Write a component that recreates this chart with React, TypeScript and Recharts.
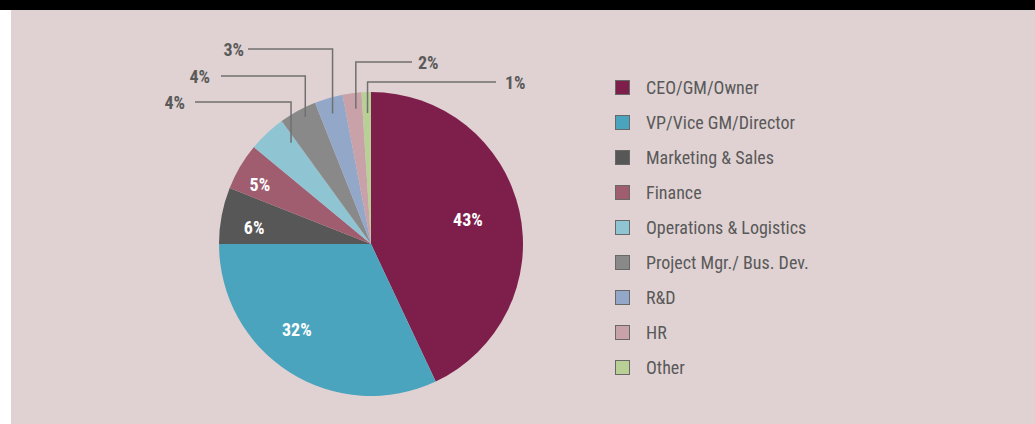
import React from 'react';
import { PieChart, Pie, Cell, Legend } from 'recharts';

const categories = [
  'CEO/GM/Owner',
  'VP/Vice GM/Director',
  'Marketing & Sales',
  'Finance',
  'Operations & Logistics',
  'Project Mgr./ Bus. Dev.',
  'R&D',
  'HR',
  'Other',
];
const shares = [43, 32, 6, 5, 4, 4, 3, 2, 1];
const colors = ['#7e1f4b', '#4ba4bd', '#575757', '#a05d6f', '#8fc4d3', '#898989', '#93a8c9', '#c9a1a9', '#b8cf95'];

const data = categories.map((name, i) => ({ name, value: shares[i] }));

const FONT = "'Liberation Sans Narrow', 'Roboto Condensed', Roboto, sans-serif";
const RAD = Math.PI / 180;
const pt = (cx: number, cy: number, r: number, a: number) => ({
  x: cx + r * Math.cos(-a * RAD),
  y: cy + r * Math.sin(-a * RAD),
});

// label layout (style only)
const innerLayout = [
  { f: 0.49, r: 100 },
  { f: 0.575, r: 113 },
  { f: 0.37, r: 118 },
  { f: 0.36, r: 126 },
];
const outerLayout = [
  { f: 0.84, r: 129, elbow: -142, end: -176, gap: 10 },
  { f: 0.6, r: 143, elbow: -168, end: -150, gap: 11 },
  { f: 0.48, r: 136, elbow: -195, end: -123, gap: 4 },
  { f: 0.61, r: 136, elbow: -182, end: 41, gap: 6 },
  { f: 0.58, r: 131, elbow: -162, end: 125, gap: 9 },
];

function renderLabel(props: any) {
  const { cx, cy, startAngle, endAngle, index, value } = props;
  if (index < innerLayout.length) {
    const L = innerLayout[index];
    const a = startAngle + L.f * (endAngle - startAngle);
    const p = pt(cx, cy, L.r, a);
    return (
      <text x={p.x} y={p.y} textAnchor="middle" dominantBaseline="central" fill="#ffffff"
        fontWeight="bold" fontSize={18} fontFamily={FONT}>
        {value}%
      </text>
    );
  }
  const L = outerLayout[index - innerLayout.length];
  const a = startAngle + L.f * (endAngle - startAngle);
  const p = pt(cx, cy, L.r, a);
  const ey = cy + L.elbow;
  const ex = cx + L.end;
  const left = L.end < 0;
  return (
    <g>
      <polyline points={`${p.x},${p.y} ${p.x},${ey} ${ex},${ey}`} fill="none" stroke="#707070" strokeWidth={1.5} />
      <text x={left ? ex - L.gap : ex + L.gap} y={ey} textAnchor={left ? 'end' : 'start'} dominantBaseline="central"
        fill="#5a5a5a" fontWeight="bold" fontSize={18} fontFamily={FONT}>
        {value}%
      </text>
    </g>
  );
}

function renderLegend() {
  return (
    <div style={{ fontFamily: FONT }}>
      {categories.map((c, i) => (
        <div key={c} style={{ display: 'flex', alignItems: 'center', height: 35 }}>
          <div style={{ width: 13, height: 13, background: colors[i], border: '1.5px solid #686868', marginRight: 16 }} />
          <span style={{ fontSize: 18, color: '#595959' }}>{c}</span>
        </div>
      ))}
    </div>
  );
}

export default function App() {
  return (
    <div style={{ position: 'absolute', left: 0, top: 0, width: 1035, height: 424, background: '#ffffff', overflow: 'hidden' }}>
      <div style={{ position: 'absolute', left: 0, top: 0, width: 1035, height: 10, background: '#000000' }} />
      <div style={{ position: 'absolute', left: 11, top: 10, width: 1024, height: 414, background: '#e0d2d3' }} />
      <div style={{ position: 'absolute', left: 0, top: 0 }}>
        <PieChart width={1035} height={424} margin={{ top: 0, right: 0, bottom: 0, left: 0 }}>
          <Pie
            data={data}
            dataKey="value"
            nameKey="name"
            cx={371}
            cy={244}
            outerRadius={152}
            startAngle={90}
            endAngle={-270}
            stroke="none"
            label={renderLabel}
            labelLine={false}
            isAnimationActive={false}
          >
            {data.map((d, i) => (
              <Cell key={d.name} fill={colors[i]} />
            ))}
          </Pie>
          <Legend content={renderLegend} layout="vertical" verticalAlign="middle" align="right"
            wrapperStyle={{ left: 615, top: 70, right: 'auto', width: 300 }} />
        </PieChart>
      </div>
    </div>
  );
}
